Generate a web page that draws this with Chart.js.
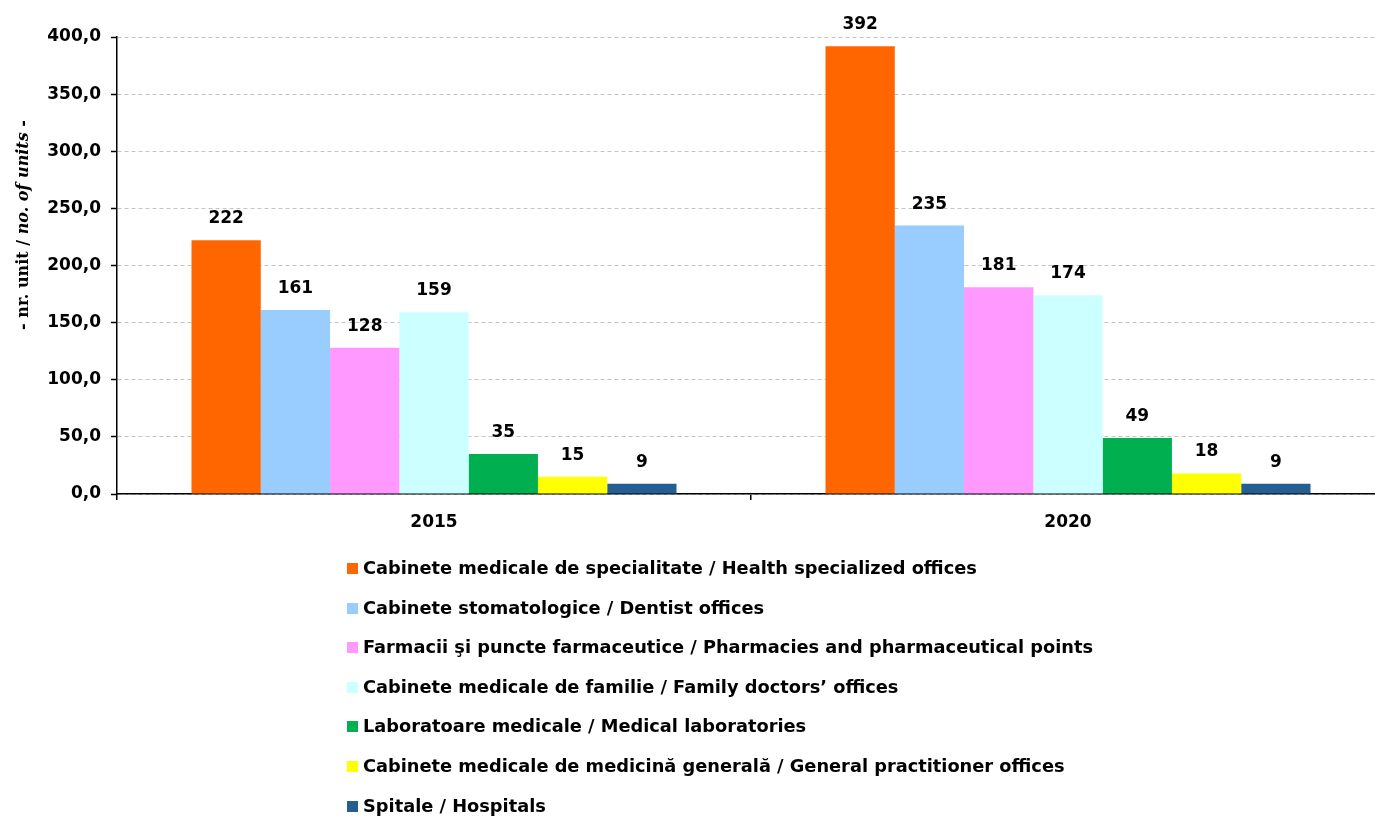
<!DOCTYPE html>
<html>
<head>
<meta charset="utf-8">
<script src="https://cdn.jsdelivr.net/npm/chart.js@4"></script>
<style>
  body { margin: 0; background: #fff; overflow: hidden; }
  #wrap { position: relative; width: 1375px; height: 816px; overflow: hidden; }
  #c { position: absolute; left: 0; top: 0; }
  #legend { position: absolute; left: 347px; top: 558px; font: bold 17.8px "DejaVu Sans", sans-serif; color: #000; }
  #legend div { height: 39.6px; line-height: 20px; white-space: nowrap; }
  #legend span.box { display: inline-block; width: 11px; height: 11px; margin-right: 5px; vertical-align: 0px; }
</style>
</head>
<body>
<div id="wrap">
  <canvas id="c" width="1385" height="816"></canvas>
  <div id="legend"></div>
</div>
<script>
// categories (years)
years = ['2015', '2020']

// series names + colours
seriesNames = [
  'Cabinete medicale de specialitate / Health specialized offices',
  'Cabinete stomatologice / Dentist offices',
  'Farmacii şi puncte farmaceutice / Pharmacies and pharmaceutical points',
  'Cabinete medicale de familie / Family doctors’ offices',
  'Laboratoare medicale / Medical laboratories',
  'Cabinete medicale de medicină generală / General practitioner offices',
  'Spitale / Hospitals'
]
seriesColors = ['#FF6600', '#99CCFF', '#FF99FF', '#CCFFFF', '#00B050', '#FFFF00', '#255E91']

// values per series: [2015, 2020]
specialized = [222, 392]
dentist = [161, 235]
pharmacies = [128, 181]
familyDoctors = [159, 174]
laboratories = [35, 49]
generalPract = [15, 18]
hospitals = [9, 9]

seriesValues = [specialized, dentist, pharmacies, familyDoctors, laboratories, generalPract, hospitals]

// y axis ticks
yMin = 0
yMax = 400
yStep = 50

sansFont = '"DejaVu Sans", sans-serif'

datasets = seriesNames.map((name, i) => ({
  label: name,
  data: seriesValues[i],
  backgroundColor: seriesColors[i],
  borderWidth: 0,
  categoryPercentage: 0.765,
  barPercentage: 1.0
}))

// value labels above bars
valueLabels = {
  id: 'valueLabels',
  afterDatasetsDraw(chart) {
    const ctx = chart.ctx
    ctx.save()
    ctx.font = 'bold 17px ' + sansFont
    ctx.fillStyle = '#000'
    ctx.textAlign = 'center'
    ctx.textBaseline = 'alphabetic'
    chart.data.datasets.forEach((ds, i) => {
      chart.getDatasetMeta(i).data.forEach((bar, j) => {
        ctx.fillText(ds.data[j], bar.x, bar.y - 17)
      })
    })
    ctx.restore()
  }
}

// y axis title with mixed regular / italic parts
yTitle = {
  id: 'yTitle',
  afterDraw(chart) {
    const ctx = chart.ctx
    const serif = '"DejaVu Serif", "Liberation Serif", serif'
    const parts = [
      ['bold 16px ' + serif, '- nr. unit / '],
      ['italic bold 16px ' + serif, 'no. of units'],
      ['bold 16px ' + serif, ' -']
    ]
    ctx.save()
    let total = 0
    parts.forEach(p => { ctx.font = p[0]; total += ctx.measureText(p[1]).width })
    ctx.translate(28, 225)
    ctx.rotate(-Math.PI / 2)
    ctx.fillStyle = '#000'
    ctx.textBaseline = 'alphabetic'
    let x = -total / 2
    parts.forEach(p => {
      ctx.font = p[0]
      ctx.fillText(p[1], x, 0)
      x += ctx.measureText(p[1]).width
    })
    ctx.restore()
  }
}

config = {
  type: 'bar',
  data: { labels: years, datasets: datasets },
  options: {
    responsive: false,
    animation: false,
    layout: { padding: { left: 0, top: 37, right: 0, bottom: 282 } },
    plugins: { legend: { display: false }, tooltip: { enabled: false } },
    scales: {
      x: {
        afterFit: s => { s.height = 40 },
        grid: { offset: true, drawOnChartArea: false, drawTicks: true, tickLength: 6, color: '#000', lineWidth: 1.5 },
        border: { display: true, color: '#000', width: 1.5 },
        ticks: { color: '#000', padding: 12, font: { family: sansFont, size: 17, weight: 'bold' } }
      },
      y: {
        min: yMin,
        max: yMax,
        afterFit: s => { s.width = 117 },
        grid: { color: '#c4c4c4', lineWidth: 1, tickLength: 6, tickColor: '#000', tickWidth: 1.5, tickBorderDash: [] },
        border: { display: true, color: '#000', width: 1.5, dash: [4, 3] },
        ticks: {
          stepSize: yStep,
          color: '#000',
          padding: 10,
          font: { family: sansFont, size: 17, weight: 'bold' },
          callback: v => v.toFixed(1).replace('.', ',')
        }
      }
    }
  },
  plugins: [valueLabels, yTitle]
}

myChart = new Chart(document.getElementById('c'), config)

// legend, one entry per line
legendBox = document.getElementById('legend')
seriesNames.forEach((name, i) => {
  row = document.createElement('div')
  row.innerHTML = '<span class="box" style="background:' + seriesColors[i] + '"></span>' + name
  legendBox.appendChild(row)
})
</script>
</body>
</html>
